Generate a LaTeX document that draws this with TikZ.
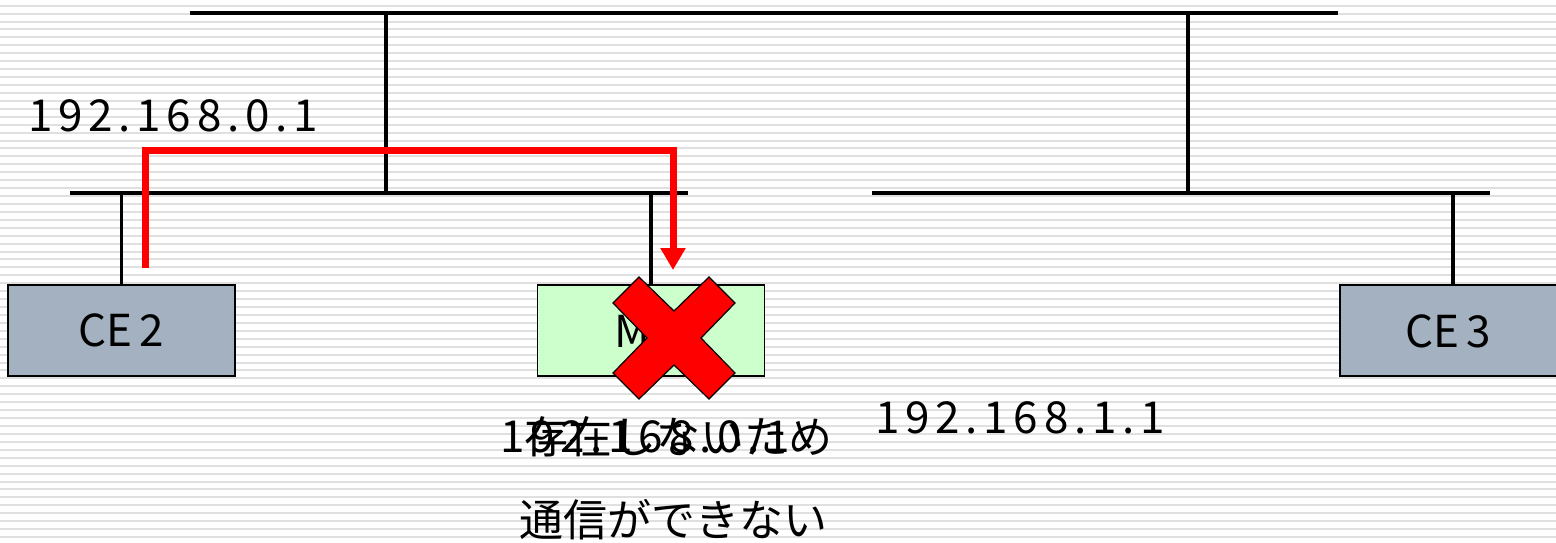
\documentclass[tikz,border=0pt]{standalone}
\usepackage{fontspec}
\setmainfont{Noto Sans CJK JP}
\newfontfamily\ipfont[LetterSpace=13]{Noto Sans CJK JP}
\usetikzlibrary{arrows.meta}
\definecolor{stripegray}{HTML}{E0E0E0}
\definecolor{ceblue}{HTML}{A3B1C0}
\definecolor{mgreen}{HTML}{CCFFCC}
\definecolor{xred}{HTML}{FF0000}
\tikzset{
  stripe/.style={stripegray, line width=1pt},
  bus/.style={black, line width=1.75pt},
  devbox/.style={draw=black, line width=0.75pt, minimum width=113.5pt, minimum height=45.5pt, inner sep=0pt},
  lbl/.style={font=\fontsize{22}{26}\selectfont, inner sep=0pt},
  iplbl/.style={font=\fontsize{22}{26}\selectfont\ipfont, inner sep=0pt},
  redpath/.style={xred, line width=3.5pt, -{Triangle[width=12pt,length=11pt]}},
}
\begin{document}
\begin{tikzpicture}[x=0.5pt,y=-0.5pt]
\useasboundingbox (0,0) rectangle (1556,542);
\fill[white] (0,0) rectangle (1556,542);
\foreach \i in {0,...,68} \draw[stripe] (0,{5.7+7.93*\i}) -- (1556,{5.7+7.93*\i});
\begin{scope}
\clip (0,0) rectangle (1556,542);
% buses
\coordinate (t1) at (190,13);
\coordinate (t2) at (1338,13);
\coordinate (l1) at (70,193);
\coordinate (l2) at (688,193);
\coordinate (r1) at (872,193);
\coordinate (r2) at (1490,193);
\draw[bus] (t1) -- (t2);
\draw[bus] (l1) -- (l2);
\draw[bus] (r1) -- (r2);
\coordinate (tl) at (386,13);
\coordinate (tr) at (1188,13);
\draw[bus] (tl) -- (tl |- l1);
\draw[bus] (tr) -- (tr |- r1);
% devices
\node[devbox, fill=ceblue, lbl] (ce2) at (121.5,330.5) {CE\,2};
\node[devbox, fill=mgreen] (m) at (651,330.5) {};
\node[lbl, anchor=west] (mtext) at (614,331) {M};
\node[devbox, fill=ceblue, minimum width=115pt] (ce3) at (1455,330.5) {};
\node[lbl] (ce3text) at (1448,331) {CE\,3};
\draw[bus] (ce2.north) -- (ce2.north |- l1);
\draw[bus] (m.north) -- (m.north |- l1);
\draw[bus] (1453,285) coordinate (ce3top) -- (ce3top |- r1);
% labels
\node[iplbl] (ip0) at (173,116) {192.168.0.1};
\node[iplbl] (ip1) at (1020,418) {192.168.1.1};
\node[iplbl, anchor=west] (ip0b) at (500,437) {192.168.0.1};
\node[lbl] (msg1) at (678,437) {存在しないため};
\node[lbl] (msg2) at (673,520) {通信ができない};
% red path
\coordinate (rs) at (145,268);
\coordinate (re) at (673,270);
\draw[redpath] (rs) -- (145,150) -| (re);
% red X
\draw[fill=xred, draw=black, line width=0.6pt]
 (639,277) -- (674,311) -- (709,277) -- (735,303) -- (701,338) -- (735,373)
 -- (709,399) -- (674,365) -- (639,399) -- (613,373) -- (647,338) -- (613,303) -- cycle;
\end{scope}
\end{tikzpicture}
\end{document}
